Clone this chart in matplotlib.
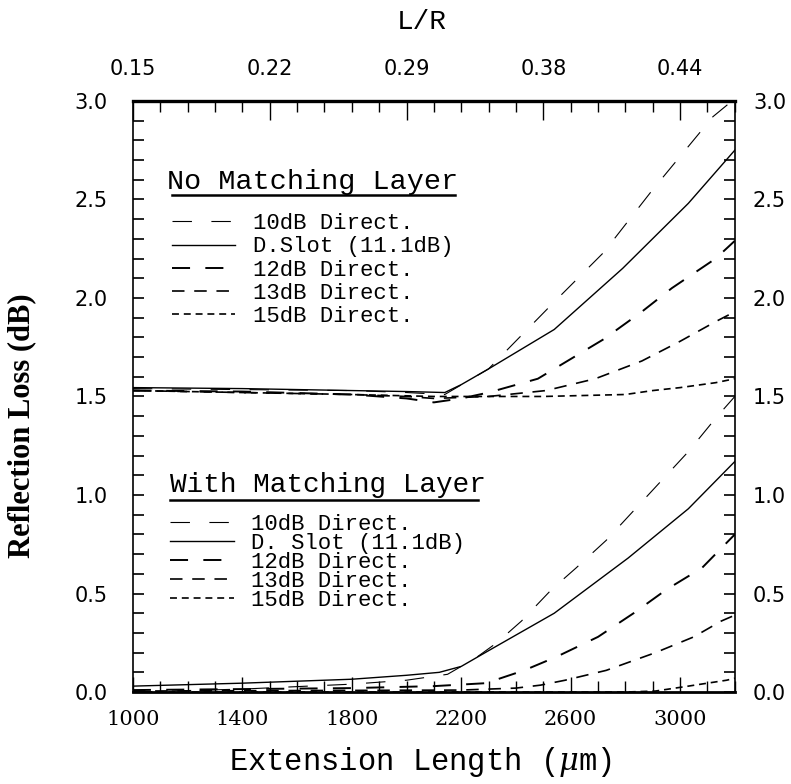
import matplotlib
matplotlib.use("Agg")
import matplotlib.pyplot as plt
from matplotlib.ticker import MultipleLocator, FixedLocator

plt.rcParams['lines.scale_dashes'] = False
plt.rcParams['mathtext.fontset'] = 'dejavuserif'

# ---- data ----
labels_no = ["10dB Direct.", "D.Slot (11.1dB)", "12dB Direct.", "13dB Direct.", "15dB Direct."]
labels_with = ["10dB Direct.", "D. Slot (11.1dB)", "12dB Direct.", "13dB Direct.", "15dB Direct."]

# No matching layer
no_10_x = [1000, 1400, 1800, 2000, 2140, 2300, 2420, 2540, 2720, 2900, 3120, 3190]
no_10_y = [1.54, 1.535, 1.53, 1.52, 1.51, 1.64, 1.81, 1.98, 2.23, 2.55, 2.92, 3.0]
no_slot_x = [1000, 1400, 1800, 2000, 2140, 2200, 2300, 2540, 2790, 3030, 3200]
no_slot_y = [1.545, 1.54, 1.53, 1.525, 1.52, 1.56, 1.64, 1.84, 2.15, 2.48, 2.75]
no_12_x = [1000, 1400, 1800, 2000, 2100, 2200, 2300, 2480, 2600, 2720, 2860, 2970, 3130, 3200]
no_12_y = [1.53, 1.525, 1.51, 1.49, 1.47, 1.49, 1.52, 1.59, 1.69, 1.79, 1.93, 2.05, 2.20, 2.29]
no_13_x = [1000, 1400, 1800, 2000, 2100, 2300, 2510, 2690, 2860, 3000, 3130, 3200]
no_13_y = [1.53, 1.52, 1.51, 1.50, 1.49, 1.50, 1.53, 1.59, 1.68, 1.78, 1.88, 1.93]
no_15_x = [1000, 1400, 1800, 2100, 2500, 2800, 2900, 3000, 3130, 3200]
no_15_y = [1.53, 1.52, 1.51, 1.50, 1.50, 1.51, 1.53, 1.545, 1.57, 1.59]

# With matching layer
w_10_x = [1000, 1400, 1800, 2000, 2150, 2250, 2330, 2420, 2530, 2620, 2730, 2830, 2930, 3030, 3130, 3200]
w_10_y = [0.0, 0.015, 0.04, 0.06, 0.09, 0.17, 0.25, 0.36, 0.52, 0.63, 0.77, 0.92, 1.07, 1.22, 1.39, 1.50]
w_slot_x = [1000, 1400, 1800, 2000, 2120, 2200, 2300, 2540, 2810, 3030, 3200]
w_slot_y = [0.03, 0.045, 0.065, 0.085, 0.10, 0.13, 0.21, 0.40, 0.68, 0.93, 1.17]
w_12_x = [1000, 1800, 2100, 2290, 2430, 2550, 2700, 2830, 2950, 3080, 3200]
w_12_y = [0.01, 0.02, 0.03, 0.045, 0.11, 0.18, 0.28, 0.40, 0.52, 0.63, 0.80]
w_13_x = [1000, 2200, 2400, 2490, 2580, 2730, 2910, 3050, 3150, 3200]
w_13_y = [0.005, 0.01, 0.02, 0.035, 0.06, 0.11, 0.20, 0.28, 0.36, 0.39]
w_15_x = [1000, 2600, 2800, 2910, 3030, 3170, 3200]
w_15_y = [0.0, 0.0, 0.0, 0.005, 0.03, 0.06, 0.07]

bottom_ticks = [1000, 1400, 1800, 2200, 2600, 3000]
top_tick_pos = [1000, 1500, 2000, 2500, 3000]
top_tick_labels = ["0.15", "0.22", "0.29", "0.38", "0.44"]

# line styles: (linewidth, dashes)
styles = [(0.8, (14, 14)), (1.0, None), (1.4, (13, 11)), (1.2, (9, 7)), (1.2, (5, 3.5))]

fig = plt.figure(figsize=(7.91, 7.84), dpi=100)
ax = fig.add_axes([0.168, 0.1173, 0.761, 0.754])


def draw(xs, ys):
    lines = []
    for (x, y), (lw, ds) in zip(zip(xs, ys), styles):
        ln, = ax.plot(x, y, color='black', lw=lw)
        if ds is not None:
            ln.set_dashes(ds)
        lines.append(ln)
    return lines


h_no = draw([no_10_x, no_slot_x, no_12_x, no_13_x, no_15_x],
            [no_10_y, no_slot_y, no_12_y, no_13_y, no_15_y])
h_with = draw([w_10_x, w_slot_x, w_12_x, w_13_x, w_15_x],
              [w_10_y, w_slot_y, w_12_y, w_13_y, w_15_y])

ax.set_xlim(1000, 3200)
ax.set_ylim(0, 3.0)

# bottom / left ticks
ax.xaxis.set_major_locator(FixedLocator(bottom_ticks))
ax.xaxis.set_minor_locator(MultipleLocator(100))
ax.yaxis.set_major_locator(MultipleLocator(0.5))
ax.yaxis.set_minor_locator(MultipleLocator(0.1))
ax.yaxis.set_major_formatter(lambda v, p: f"{v:.1f}")
ax.tick_params(axis='x', which='both', direction='in', top=False, pad=13)
ax.tick_params(axis='x', which='major', length=11, width=1)
ax.tick_params(axis='x', which='minor', length=8, width=1)
ax.tick_params(axis='y', which='both', direction='in', left=True, right=False,
               length=8, width=1.2)
ax.tick_params(axis='y', which='major', pad=18)
for t in ax.get_xticklabels():
    t.set_fontfamily('DejaVu Serif')
    t.set_fontsize(15)
for t in ax.get_yticklabels():
    t.set_fontfamily('DejaVu Sans')
    t.set_fontsize(15)

# right axis (same scale, own pad)
ax3 = ax.twinx()
ax3.set_ylim(ax.get_ylim())
ax3.yaxis.set_major_locator(MultipleLocator(0.5))
ax3.yaxis.set_minor_locator(MultipleLocator(0.1))
ax3.yaxis.set_major_formatter(lambda v, p: f"{v:.1f}")
ax3.tick_params(axis='y', which='both', direction='in', length=8, width=1.2)
ax3.tick_params(axis='y', which='major', pad=13, labelsize=15)
for s in ['left', 'top', 'bottom']:
    ax3.spines[s].set_visible(False)
ax3.spines['right'].set_linewidth(1.2)

# top L/R axis
ax2 = ax.twiny()
ax2.set_xlim(ax.get_xlim())
ax2.xaxis.set_major_locator(FixedLocator(top_tick_pos))
ax2.xaxis.set_minor_locator(MultipleLocator(100))
ax2.set_xticklabels(top_tick_labels, fontfamily='DejaVu Sans', fontsize=15)
ax2.tick_params(axis='x', which='both', direction='in', pad=16)
ax2.tick_params(axis='x', which='major', length=14, width=1)
ax2.tick_params(axis='x', which='minor', length=8, width=1)
for s in ['left', 'right', 'bottom']:
    ax2.spines[s].set_visible(False)
ax2.spines['top'].set_linewidth(2.4)
ax.spines['top'].set_visible(False)
ax.spines['right'].set_visible(False)
ax.spines['bottom'].set_linewidth(2.0)
ax.spines['left'].set_linewidth(1.2)

# axis labels
ax.set_xlabel(r"Extension Length ($\mu$m)", fontfamily='Liberation Mono', fontsize=22, va='center')
ax.xaxis.set_label_coords(0.477, -0.118)
ax.set_ylabel("Reflection Loss (dB)", fontfamily='Liberation Serif', fontweight='bold',
              fontsize=22, va='center')
ax.yaxis.set_label_coords(-0.185, 0.45)
ax2.set_xlabel("L/R", fontfamily='Liberation Mono', fontsize=20, va='center')
ax2.xaxis.set_label_coords(0.48, 1.134)

# legends
mono = {'family': 'Liberation Mono', 'size': 16}
leg1 = ax.legend(h_no, labels_no, loc='upper left', bbox_to_anchor=(0.065, 0.810),
                 frameon=False, prop=mono, borderpad=0, borderaxespad=0,
                 handlelength=2.85, handletextpad=0.8, labelspacing=0.10)
ax.add_artist(leg1)
leg2 = ax.legend(h_with, labels_with, loc='upper left', bbox_to_anchor=(0.062, 0.302),
                 frameon=False, prop=mono, borderpad=0, borderaxespad=0,
                 handlelength=2.85, handletextpad=0.8, labelspacing=-0.09)

ax.text(0.056, 0.862, "No Matching Layer", transform=ax.transAxes,
        fontfamily='Liberation Mono', fontsize=20.5, va='center', ha='left')
ax.plot([0.065, 0.535], [0.841, 0.841], transform=ax.transAxes, color='black', lw=1.8)
ax.text(0.061, 0.351, "With Matching Layer", transform=ax.transAxes,
        fontfamily='Liberation Mono', fontsize=20, va='center', ha='left')
ax.plot([0.061, 0.573], [0.325, 0.325], transform=ax.transAxes, color='black', lw=1.8)

fig.savefig("out.png", dpi=100)
